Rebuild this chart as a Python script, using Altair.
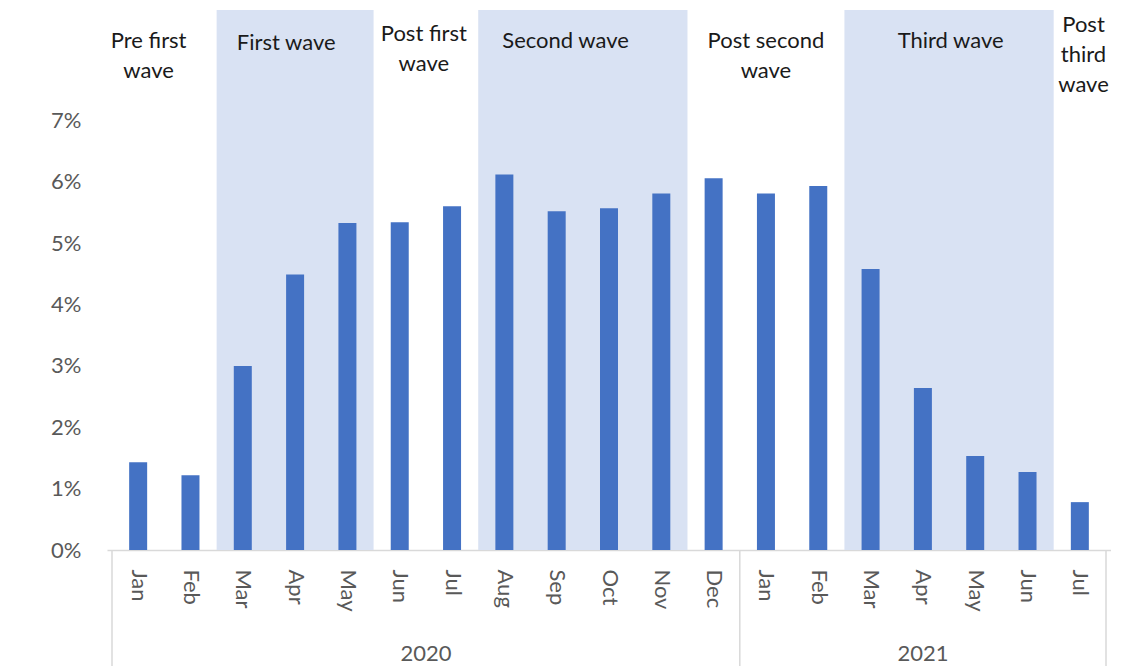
import altair as alt
import pandas as pd

# ---- data ----
months = ["Jan", "Feb", "Mar", "Apr", "May", "Jun", "Jul", "Aug", "Sep", "Oct", "Nov", "Dec",
          "Jan", "Feb", "Mar", "Apr", "May", "Jun", "Jul"]
years = ["2020"] * 12 + ["2021"] * 7
values = [1.43, 1.22, 3.00, 4.49, 5.33, 5.34, 5.60, 6.12, 5.52, 5.57, 5.81, 6.06,
          5.81, 5.93, 4.58, 2.64, 1.53, 1.27, 0.78]

wave_names = ["First wave", "Second wave", "Third wave"]
wave_start = [2, 7, 14]
wave_end = [4, 10, 17]

period_labels = ["Pre first\nwave", "First wave", "Post first\nwave", "Second wave",
                 "Post second\nwave", "Third wave", "Post\nthird\nwave"]
period_center = [0.2, 2.83, 5.46, 8.17, 12.0, 15.53, 18.07]
period_top = [8.45, 8.43, 8.58, 8.45, 8.45, 8.45, 8.72]

year_names = ["2020", "2021"]
year_center = [5.5, 15.0]
year_bounds = [-0.5, 11.5, 18.5]

FONT = "Lato"
BAR = "#4472C4"
SHADE = "#D9E2F3"
GRAY = "#595959"
LINE = "#D9D9D9"
YMAX = 8.8

idx = list(range(len(months)))
df = pd.DataFrame({"i": idx, "month": months, "year": years, "value": values})
waves = pd.DataFrame({"name": wave_names,
                      "x0": [s - 0.5 for s in wave_start],
                      "x1": [e + 0.5 for e in wave_end],
                      "y0": [0.0] * 3, "y1": [YMAX] * 3})
periods = pd.DataFrame({"label": period_labels, "x": period_center, "y": period_top})
yrs = pd.DataFrame({"label": year_names, "x": year_center, "y": [-1.69, -1.69]})
seps = pd.DataFrame({"x": year_bounds, "y0": [0.0] * 3, "y1": [-2.0] * 3})

label_expr = "[" + ",".join("'" + m + "'" for m in months) + "][datum.value]"

xscale = alt.Scale(domain=[-0.5, 18.5], nice=False, zero=False)
yscale = alt.Scale(domain=[0, YMAX], nice=False)

xaxis = alt.Axis(values=idx, labelExpr=label_expr, labelAngle=90,
                 labelFontSize=22, labelFont=FONT, labelColor=GRAY,
                 labelPadding=19, ticks=False, tickSize=0, grid=False,
                 domainColor=LINE, domainWidth=1.5, title=None,
                 labelOverlap=False)
yaxis = alt.Axis(values=[0, 1, 2, 3, 4, 5, 6, 7], labelExpr="datum.value + '%'",
                 labelFontSize=22, labelFont=FONT, labelColor=GRAY,
                 labelPadding=26, ticks=False, tickSize=0, grid=False,
                 domain=False, title=None)


def X(field):
    return alt.X(field, scale=xscale, axis=xaxis)


def Y(field):
    return alt.Y(field, scale=yscale, axis=yaxis)


shade = alt.Chart(waves).mark_rect(color=SHADE).encode(
    x=X("x0:Q"), x2="x1", y=Y("y0:Q"), y2="y1")

bars = alt.Chart(df).mark_bar(color=BAR, size=18).encode(
    x=X("i:Q"), y=Y("value:Q"))

sep_rules = alt.Chart(seps).mark_rule(color=LINE, strokeWidth=1.5).encode(
    x=X("x:Q"), y=Y("y0:Q"), y2="y1")

period_text = alt.Chart(periods).mark_text(
    font=FONT, fontSize=22, color="#1a1a1a", align="center", baseline="top",
    lineBreak="\n", lineHeight=30).encode(
    x=X("x:Q"), y=Y("y:Q"), text="label:N")

year_text = alt.Chart(yrs).mark_text(
    font=FONT, fontSize=22, color=GRAY, align="center", baseline="middle").encode(
    x=X("x:Q"), y=Y("y:Q"), text="label:N")

chart = alt.layer(shade, bars, sep_rules, period_text, year_text).properties(
    width=1004, height=540,
    autosize=alt.AutoSizeParams(type="none"),
    padding={"left": 99, "top": 2, "right": 0, "bottom": 116},
    background="white",
).configure_view(strokeWidth=0)

chart.save("out.html", embed_options={"renderer": "svg", "actions": False})
